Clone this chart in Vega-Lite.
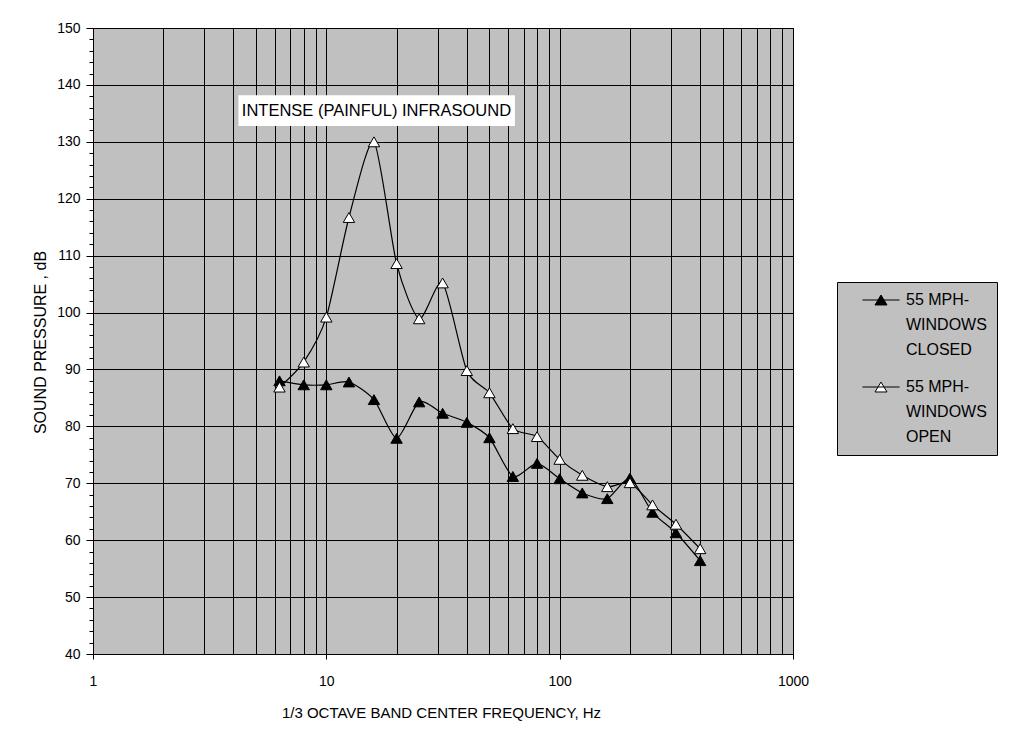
{
  "$schema": "https://vega.github.io/schema/vega-lite/v6.json",
  "width": 700,
  "height": 626,
  "autosize": {"type": "none"},
  "padding": {"left": 93, "top": 28, "right": 223, "bottom": 86},
  "background": "white",
  "config": {
    "font": "Liberation Sans",
    "view": {"fill": "#C0C0C0", "stroke": "black", "strokeWidth": 1},
    "axis": {
      "labelColor": "black", "titleColor": "black", "domainColor": "black",
      "tickColor": "black", "gridColor": "black", "gridOpacity": 1, "gridWidth": 1,
      "labelFontSize": 14, "titleFontSize": 15, "titleFontWeight": "normal",
      "labelFont": "Liberation Sans", "titleFont": "Liberation Sans"
    }
  },
  "datasets": {
    "annotbox": [
      {"freq": 4.2, "freq2": 64.3, "spl": 132.8, "spl2": 138.2}
    ],
    "annottext": [
      {"freq": 16.4, "spl": 135.5, "label": "INTENSE (PAINFUL) INFRASOUND"}
    ],
    "series": [
      {"freq": 6.3, "spl": 88.0, "series": "55 MPH-WINDOWS CLOSED"},
      {"freq": 8, "spl": 87.3, "series": "55 MPH-WINDOWS CLOSED"},
      {"freq": 10, "spl": 87.3, "series": "55 MPH-WINDOWS CLOSED"},
      {"freq": 12.5, "spl": 87.8, "series": "55 MPH-WINDOWS CLOSED"},
      {"freq": 16, "spl": 84.7, "series": "55 MPH-WINDOWS CLOSED"},
      {"freq": 20, "spl": 77.9, "series": "55 MPH-WINDOWS CLOSED"},
      {"freq": 25, "spl": 84.3, "series": "55 MPH-WINDOWS CLOSED"},
      {"freq": 31.5, "spl": 82.3, "series": "55 MPH-WINDOWS CLOSED"},
      {"freq": 40, "spl": 80.7, "series": "55 MPH-WINDOWS CLOSED"},
      {"freq": 50, "spl": 78.0, "series": "55 MPH-WINDOWS CLOSED"},
      {"freq": 63, "spl": 71.2, "series": "55 MPH-WINDOWS CLOSED"},
      {"freq": 80, "spl": 73.5, "series": "55 MPH-WINDOWS CLOSED"},
      {"freq": 100, "spl": 70.8, "series": "55 MPH-WINDOWS CLOSED"},
      {"freq": 125, "spl": 68.3, "series": "55 MPH-WINDOWS CLOSED"},
      {"freq": 160, "spl": 67.3, "series": "55 MPH-WINDOWS CLOSED"},
      {"freq": 200, "spl": 70.9, "series": "55 MPH-WINDOWS CLOSED"},
      {"freq": 250, "spl": 64.9, "series": "55 MPH-WINDOWS CLOSED"},
      {"freq": 315, "spl": 61.3, "series": "55 MPH-WINDOWS CLOSED"},
      {"freq": 400, "spl": 56.4, "series": "55 MPH-WINDOWS CLOSED"},
      {"freq": 6.3, "spl": 86.9, "series": "55 MPH-WINDOWS OPEN"},
      {"freq": 8, "spl": 91.3, "series": "55 MPH-WINDOWS OPEN"},
      {"freq": 10, "spl": 99.2, "series": "55 MPH-WINDOWS OPEN"},
      {"freq": 12.5, "spl": 116.7, "series": "55 MPH-WINDOWS OPEN"},
      {"freq": 16, "spl": 130.0, "series": "55 MPH-WINDOWS OPEN"},
      {"freq": 20, "spl": 108.6, "series": "55 MPH-WINDOWS OPEN"},
      {"freq": 25, "spl": 98.9, "series": "55 MPH-WINDOWS OPEN"},
      {"freq": 31.5, "spl": 105.2, "series": "55 MPH-WINDOWS OPEN"},
      {"freq": 40, "spl": 89.8, "series": "55 MPH-WINDOWS OPEN"},
      {"freq": 50, "spl": 85.9, "series": "55 MPH-WINDOWS OPEN"},
      {"freq": 63, "spl": 79.6, "series": "55 MPH-WINDOWS OPEN"},
      {"freq": 80, "spl": 78.2, "series": "55 MPH-WINDOWS OPEN"},
      {"freq": 100, "spl": 74.2, "series": "55 MPH-WINDOWS OPEN"},
      {"freq": 125, "spl": 71.4, "series": "55 MPH-WINDOWS OPEN"},
      {"freq": 160, "spl": 69.4, "series": "55 MPH-WINDOWS OPEN"},
      {"freq": 200, "spl": 70.1, "series": "55 MPH-WINDOWS OPEN"},
      {"freq": 250, "spl": 66.2, "series": "55 MPH-WINDOWS OPEN"},
      {"freq": 315, "spl": 62.8, "series": "55 MPH-WINDOWS OPEN"},
      {"freq": 400, "spl": 58.5, "series": "55 MPH-WINDOWS OPEN"}
    ]
  },
  "layer": [
    {
      "data": {"name": "series"},
      "mark": {"type": "line", "interpolate": "cardinal", "tension": 0.3, "color": "black", "strokeWidth": 1.2},
      "encoding": {
        "x": {
          "field": "freq", "type": "quantitative",
          "scale": {"type": "log", "domain": [1, 1000], "nice": false},
          "axis": {
            "values": [1,2,3,4,5,6,7,8,9,10,20,30,40,50,60,70,80,90,100,200,300,400,500,600,700,800,900,1000],
            "tickCount": 200,
            "labelExpr": "(datum.value==1||datum.value==10||datum.value==100||datum.value==1000) ? format(datum.value,'d') : ''",
            "tickSize": 5,
            "tickOpacity": {"condition": {"test": "datum.value==1||datum.value==10||datum.value==100||datum.value==1000", "value": 1}, "value": 0},
            "grid": true,
            "labelPadding": 15,
            "labelOverlap": false,
            "labelFlush": false,
            "labelBound": false,
            "title": "1/3 OCTAVE BAND CENTER FREQUENCY, Hz",
            "titleX": 348, "titleY": 58, "titleBaseline": "middle", "titleAlign": "center"
          }
        },
        "y": {
          "field": "spl", "type": "quantitative",
          "scale": {"domain": [40, 150], "nice": false, "zero": false},
          "axis": {
            "values": [40,42,44,46,48,50,52,54,56,58,60,62,64,66,68,70,72,74,76,78,80,82,84,86,88,90,92,94,96,98,100,102,104,106,108,110,112,114,116,118,120,122,124,126,128,130,132,134,136,138,140,142,144,146,148,150],
            "tickCount": 200,
            "format": "d",
            "labelExpr": "datum.value % 10 == 0 ? format(datum.value, 'd') : ''",
            "gridOpacity": {"condition": {"test": "datum.value % 10 == 0", "value": 1}, "value": 0},
            "tickSize": {"condition": {"test": "datum.value % 10 == 0", "value": 7}, "value": 4},
            "grid": true,
            "labelPadding": 6,
            "labelOverlap": false,
            "labelFlush": false,
            "title": "SOUND PRESSURE , dB",
            "titleFontSize": 16,
            "titleX": -53, "titleY": 314, "titleBaseline": "middle", "titleAlign": "center", "titleAngle": -90
          }
        },
        "detail": {"field": "series", "type": "nominal"}
      }
    },
    {
      "data": {"name": "series"},
      "mark": {"type": "point", "shape": "triangle-up", "filled": true, "stroke": "black", "strokeWidth": 1, "size": 130, "opacity": 1},
      "encoding": {
        "x": {"field": "freq", "type": "quantitative"},
        "y": {"field": "spl", "type": "quantitative"},
        "fill": {
          "field": "series", "type": "nominal",
          "scale": {"domain": ["55 MPH-WINDOWS CLOSED", "55 MPH-WINDOWS OPEN"], "range": ["black", "white"]},
          "legend": {
            "title": null,
            "orient": "none",
            "legendX": 744,
            "legendY": 254,
            "symbolType": "M-3.1,0L3.1,0M-1,0.83L0,-0.83L1,0.83Z",
            "symbolSize": 144,
            "symbolStrokeColor": "black",
            "symbolStrokeWidth": 1,
            "symbolOpacity": 1,
            "symbolOffset": 26,
            "labelExpr": "['55 MPH-', 'WINDOWS', indexof(datum.label, 'CLOSED') >= 0 ? 'CLOSED' : 'OPEN']",
            "labelFont": "Liberation Sans",
            "labelFontSize": 16,
            "labelColor": "black",
            "labelLimit": 300,
            "labelOffset": 17,
            "labelBaseline": "middle",
            "fillColor": "#C0C0C0",
            "strokeColor": "black",
            "padding": 10,
            "rowPadding": 21,
            "encode": {"labels": {"update": {"lineHeight": {"value": 25}}}}
          }
        }
      }
    },
    {
      "data": {"name": "annotbox"},
      "mark": {"type": "rect", "fill": "white"},
      "encoding": {
        "x": {"field": "freq", "type": "quantitative"},
        "x2": {"field": "freq2"},
        "y": {"field": "spl", "type": "quantitative"},
        "y2": {"field": "spl2"}
      }
    },
    {
      "data": {"name": "annottext"},
      "mark": {"type": "text", "font": "Liberation Sans", "fontSize": 16.5, "color": "black", "align": "center", "baseline": "middle"},
      "encoding": {
        "x": {"field": "freq", "type": "quantitative"},
        "y": {"field": "spl", "type": "quantitative"},
        "text": {"field": "label"}
      }
    }
  ]
}
